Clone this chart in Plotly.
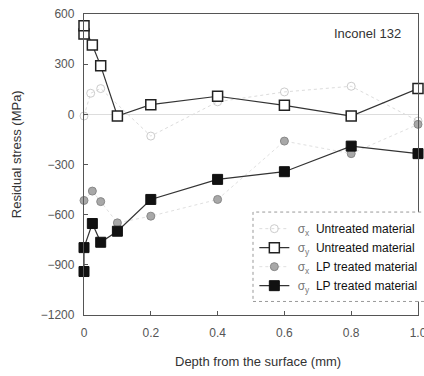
import plotly.graph_objects as go

# --- data ---
sx_un_x = [0.0, 0.02, 0.05, 0.2, 0.4, 0.6, 0.8, 1.0]
sx_un_y = [-10, 126, 154, -130, 75, 134, 168, -40]

sy_un_x = [0.0, 0.0, 0.025, 0.05, 0.1, 0.2, 0.4, 0.6, 0.8, 1.0]
sy_un_y = [480, 530, 415, 290, -10, 58, 108, 54, -10, 154]

sx_lp_x = [0.0, 0.025, 0.05, 0.1, 0.2, 0.4, 0.6, 0.8, 1.0]
sx_lp_y = [-515, -459, -522, -649, -609, -509, -160, -235, -60]

sy_lp_x = [0.0, 0.0, 0.025, 0.05, 0.1, 0.2, 0.4, 0.6, 0.8, 1.0]
sy_lp_y = [-940, -797, -653, -765, -699, -509, -389, -343, -190, -235]

x_ticks = [0, 0.2, 0.4, 0.6, 0.8, 1.0]
x_tick_labels = ["0", "0.2", "0.4", "0.6", "0.8", "1.0"]
y_ticks = [600, 300, 0, -300, -600, -900, -1200]

names = [
    "<span style='color:#777'>&nbsp;σ<sub>x</sub></span>&nbsp; Untreated material",
    "<span style='color:#777'>&nbsp;σ<sub>y</sub></span>&nbsp; Untreated material",
    "<span style='color:#777'>&nbsp;σ<sub>x</sub></span>&nbsp; LP treated material",
    "<span style='color:#777'>&nbsp;σ<sub>y</sub></span>&nbsp; LP treated material",
]

fig = go.Figure()
fig.add_trace(go.Scatter(
    x=sx_un_x, y=sx_un_y, name=names[0], mode="lines+markers",
    line=dict(color="#dcdcdc", width=1, dash="dot"),
    marker=dict(symbol="circle-open", size=8, color="#cccccc", line=dict(width=1)),
    cliponaxis=False))
fig.add_trace(go.Scatter(
    x=sy_un_x, y=sy_un_y, name=names[1], mode="lines+markers",
    line=dict(color="#333", width=1.2),
    marker=dict(symbol="square", size=10, color="white", line=dict(color="#222", width=1.5)),
    cliponaxis=False))
fig.add_trace(go.Scatter(
    x=sx_lp_x, y=sx_lp_y, name=names[2], mode="lines+markers",
    line=dict(color="#e0e0e0", width=1, dash="dot"),
    marker=dict(symbol="circle", size=8, color="#a8a8a8", line=dict(color="#888", width=1)),
    cliponaxis=False))
fig.add_trace(go.Scatter(
    x=sy_lp_x, y=sy_lp_y, name=names[3], mode="lines+markers",
    line=dict(color="#333", width=1.2),
    marker=dict(symbol="square", size=10, color="#111", line=dict(color="#111", width=1)),
    cliponaxis=False))

fig.update_layout(
    width=424, height=376,
    margin=dict(l=84, r=6, t=14, b=61, autoexpand=False),
    paper_bgcolor="white", plot_bgcolor="white",
    font=dict(family="Liberation Sans, Arial", color="#444", size=12),
    showlegend=True,
    legend=dict(x=0.51, y=0.335, xanchor="left", yanchor="top",
                bgcolor="rgba(0,0,0,0)", borderwidth=0,
                font=dict(size=12, color="#111"), tracegroupgap=0),
    xaxis=dict(range=[0, 1.0], tickvals=x_ticks, ticktext=x_tick_labels,
               showgrid=False, zeroline=False, showline=True, mirror=True,
               linecolor="#555", linewidth=1.3, ticks="inside", ticklen=4,
               tickcolor="#555", tickfont=dict(size=12, color="#555"),
               ticklabeloverflow="allow", ticklabelstandoff=6),
    yaxis=dict(range=[-1200, 600], tickvals=y_ticks,
               showgrid=False, zeroline=True, zerolinecolor="#dddddd", zerolinewidth=1,
               showline=True, mirror=True,
               linecolor="#555", linewidth=1.3, ticks="inside", ticklen=4,
               tickcolor="#555", tickfont=dict(size=12, color="#555"),
               ticklabelstandoff=6),
    shapes=[dict(type="rect", xref="paper", yref="paper",
                 x0=0.506, x1=1.1, y0=0.045, y1=0.342,
                 line=dict(color="#999", width=1, dash="dot"),
                 fillcolor="white", layer="above")],
    annotations=[
        dict(text="Inconel 132", xref="paper", yref="paper", x=0.955, y=0.935,
             xanchor="right", yanchor="middle", showarrow=False,
             font=dict(size=13, color="#333")),
        dict(text="Depth from the surface (mm)", xref="paper", yref="paper",
             x=0.52, y=-0.155, xanchor="center", yanchor="middle", showarrow=False,
             font=dict(size=13, color="#333")),
        dict(text="Residual stress (MPa)", xref="paper", yref="paper",
             x=-0.2, y=0.535, xanchor="center", yanchor="middle", showarrow=False,
             textangle=-90, font=dict(size=13, color="#333")),
    ],
)

fig.write_html("out.html")
